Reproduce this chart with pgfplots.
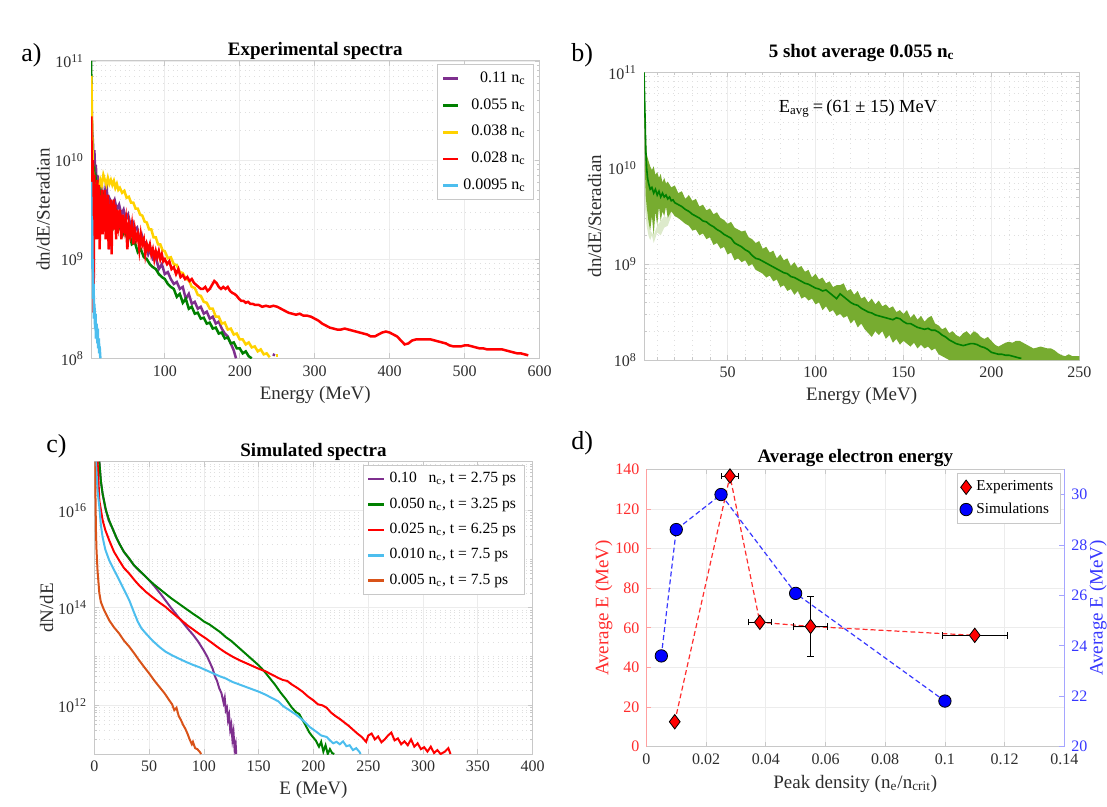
\documentclass[border=0pt]{standalone}
\usepackage{fontspec}
\setmainfont{Liberation Serif}
\usepackage{pgfplots}
\pgfplotsset{compat=1.18}
\definecolor{mpurple}{RGB}{126,47,142}
\definecolor{mgreen}{RGB}{0,128,0}
\definecolor{myellow}{RGB}{255,210,0}
\definecolor{mred}{RGB}{255,0,0}
\definecolor{mcyan}{RGB}{77,190,238}
\definecolor{morange}{RGB}{217,83,25}
\definecolor{bandgreen}{RGB}{119,172,48}
\definecolor{axgray}{RGB}{200,200,200}
\definecolor{tickgray}{RGB}{45,45,45}
\definecolor{dred}{RGB}{255,45,45}
\definecolor{dblue}{RGB}{55,55,255}
\newcommand\tickfont{\fontsize{8}{9.6}\selectfont}
\newcommand\labfont{\fontsize{9.5}{11}\selectfont}
\newcommand\titfont{\bfseries\fontsize{9.5}{11}\selectfont}
\newcommand\legfont{\fontsize{7.8}{9}\selectfont}
\pgfplotsset{
  mstyle/.style={
    scale only axis, anchor=south west,
    axis line style={axgray, line width=0.5pt},
    tick style={axgray, line width=0.4pt},
    tick align=inside,
    major tick length=2.5pt, minor tick length=1.5pt,
    major grid style={gray!15, line width=0.4pt},
    minor grid style={gray!25, dotted, line width=0.4pt},
    tick label style={font=\tickfont, text=tickgray},
    label style={font=\labfont, text=tickgray},
    every axis title shift=0pt,
    title style={font=\titfont, anchor=base},
    /pgf/number format/assume math mode=true,
    legend style={draw=axgray, line width=0.4pt, font=\legfont, anchor=north east, inner xsep=2pt, inner ysep=1.5pt},
  },
  logminor/.style={minor ytick={8.301,8.477,8.602,8.699,8.778,8.845,8.903,8.954,9.301,9.477,9.602,9.699,9.778,9.845,9.903,9.954,10.301,10.477,10.602,10.699,10.778,10.845,10.903,10.954}},
}
\begin{document}
\begin{tikzpicture}
\useasboundingbox (0,0) rectangle (553.5pt,-403.5pt);
% ---------------- a) ----------------
\begin{axis}[mstyle, at={(45.5pt,-179.15pt)}, width=224.25pt, height=148.65pt,
  xmin=1.5, xmax=600, ymin=8, ymax=11,
  xtick={100,200,300,400,500,600},
  ytick={8,9,10,11}, yticklabels={10\textsuperscript{8},10\textsuperscript{9},10\textsuperscript{10},10\textsuperscript{11}},
  logminor, xmajorgrids, ymajorgrids, yminorgrids,
  title={Experimental spectra}, title style={at={(axis description cs:0.5,1.02)}},
  xlabel={Energy (MeV)}, xlabel style={at={(axis description cs:0.5,-0.137)}, anchor=base},
  ylabel={dn/dE/Steradian}, ylabel style={at={(axis description cs:-0.107,0.5)}, anchor=center},
  legend style={at={(axis description cs:0.988,0.989)}, row sep=2.6pt, font=\fontsize{8}{9}\selectfont},
  legend cell align=right,
  legend image code/.code={\draw[#1, line width=1.4pt] (0pt,0pt) -- (7.5pt,0pt);},
  every axis plot/.append style={line width=1.25pt},
]
\addplot[mpurple] coordinates {(1.5,10.5)(2,10.8)(2.5,10.5)(3,10.3)(4,10.2)(5,10.0)(6,10.1)(7,9.9)(8,9.95)(9,9.75)(10,9.85)(12,9.7)(14,9.6)(16,9.75)(18,9.55)(20,9.65)(22,9.8)(24,9.5)(26,9.1)(27,9.6)(30,9.55)(33,9.6)(36,9.5)(39,9.55)(42,9.45)(45,9.5)(48,9.4)(51,9.45)(54,9.35)(57,9.38)(60,9.3)(63,9.32)(66,9.2)(69,9.25)(72,9.15)(75,9.17)(78,9.05)(81,9.1)(84,9.0)(88,9.02)(92,8.9)(96,8.95)(100,8.85)(104,8.87)(108,8.8)(112,8.75)(116,8.77)(120,8.7)(124,8.72)(128,8.6)(132,8.65)(136,8.55)(140,8.57)(144,8.5)(148,8.52)(152,8.45)(156,8.47)(160,8.4)(164,8.42)(168,8.35)(172,8.37)(176,8.3)(180,8.25)(184,8.22)(188,8.15)(192,8.08)(195,8.0)};
\addlegendentry{0.11 n\textsubscript{c}}
\addplot[mgreen] coordinates {(1.5,11.0)(2,10.8)(2.5,10.4)(3,10.1)(3.5,10.0)(4,9.9)(5,9.8)(6,9.85)(7,9.7)(8,9.75)(9,9.6)(10,9.7)(12,9.55)(14,9.65)(16,9.5)(18,9.6)(20,9.5)(23,9.55)(26,9.4)(29,9.5)(32,9.35)(35,9.45)(38,9.3)(41,9.35)(44,9.25)(47,9.3)(50,9.2)(53,9.25)(56,9.15)(60,9.17)(64,9.07)(68,9.1)(72,9.02)(76,9.0)(80,8.95)(84,8.92)(88,8.9)(92,8.85)(96,8.82)(100,8.8)(104,8.75)(108,8.72)(112,8.7)(116,8.62)(120,8.65)(124,8.56)(128,8.6)(132,8.5)(136,8.52)(140,8.45)(144,8.46)(148,8.4)(152,8.41)(156,8.35)(160,8.36)(164,8.3)(168,8.31)(172,8.25)(176,8.26)(180,8.2)(184,8.21)(188,8.15)(192,8.16)(196,8.1)(200,8.1)(204,8.05)(208,8.07)(212,8.02)(216,8.0)};
\addlegendentry{0.055 n\textsubscript{c}}
\addplot[myellow] coordinates {(1.5,10.0)(2,10.85)(2.5,10.6)(3,10.3)(3.5,10.1)(4,9.9)(5,9.8)(6,9.75)(8,9.7)(10,9.75)(12,9.7)(14,9.8)(16,9.75)(18,9.85)(20,9.8)(22,9.75)(24,9.82)(26,9.76)(28,9.8)(30,9.75)(32,9.79)(34,9.72)(36,9.76)(38,9.7)(40,9.72)(43,9.67)(46,9.69)(49,9.62)(52,9.63)(55,9.57)(58,9.57)(61,9.51)(64,9.51)(67,9.45)(70,9.44)(73,9.38)(76,9.37)(79,9.3)(82,9.3)(85,9.22)(88,9.22)(91,9.15)(94,9.15)(97,9.09)(100,9.08)(104,9.01)(108,9.02)(112,8.95)(116,8.94)(120,8.87)(124,8.86)(128,8.8)(132,8.79)(136,8.72)(140,8.71)(144,8.64)(148,8.63)(152,8.57)(156,8.56)(160,8.5)(164,8.5)(168,8.42)(172,8.42)(176,8.35)(180,8.36)(184,8.29)(188,8.3)(192,8.24)(196,8.25)(200,8.19)(204,8.19)(208,8.14)(212,8.16)(216,8.11)(220,8.12)(224,8.07)(228,8.09)(232,8.04)(236,8.05)(240,8.01)};
\addlegendentry{0.038 n\textsubscript{c}}
\addplot[mred] coordinates {(1.5,9.9)(2,10.44)(2.5,9.7)(3,9.9)(3.5,9.4)(4,10.0)(4.5,9.6)(5,8.46)(5.5,9.5)(6,9.85)(7,9.3)(8,9.7)(9,9.2)(10,9.8)(11,9.4)(12,9.75)(13,9.1)(14,9.6)(15,9.35)(16,9.7)(17,9.25)(18,9.65)(19,9.4)(20,9.7)(21,9.2)(22,9.6)(23,9.45)(24,9.65)(25,9.1)(26,9.55)(27,9.3)(28,9.6)(29,9.05)(30,9.5)(31,9.35)(32,9.6)(33,9.3)(34,9.55)(35,9.2)(36,9.5)(38,9.35)(40,9.5)(42,9.2)(44,9.45)(46,9.3)(48,9.4)(50,9.1)(52,9.35)(54,9.25)(56,9.35)(58,9.15)(60,9.3)(62,9.2)(64,9.25)(66,9.1)(68,9.25)(70,9.15)(72,9.2)(74,9.05)(76,9.15)(78,9.1)(80,9.15)(82,9.05)(84,9.1)(86,9.0)(88,9.08)(90,9.02)(92,9.08)(94,9.0)(96,9.05)(98,8.98)(100,9.0)(103,8.95)(106,8.98)(109,8.9)(112,8.92)(115,8.85)(118,8.9)(121,8.82)(124,8.84)(127,8.8)(130,8.82)(133,8.78)(136,8.8)(139,8.76)(142,8.74)(145,8.72)(148,8.7)(151,8.7)(154,8.72)(157,8.68)(160,8.7)(163,8.74)(166,8.78)(169,8.76)(172,8.72)(175,8.7)(178,8.72)(181,8.7)(184,8.72)(187,8.68)(190,8.66)(193,8.65)(196,8.63)(199,8.6)(202,8.58)(205,8.58)(208,8.56)(211,8.57)(214,8.55)(217,8.55)(220,8.54)(225,8.54)(230,8.52)(235,8.53)(240,8.52)(245,8.53)(250,8.52)(255,8.5)(260,8.48)(265,8.46)(270,8.45)(275,8.44)(280,8.45)(285,8.43)(290,8.43)(295,8.42)(300,8.4)(305,8.38)(310,8.35)(315,8.33)(320,8.31)(325,8.3)(330,8.29)(335,8.29)(340,8.3)(345,8.29)(350,8.28)(355,8.27)(360,8.26)(365,8.25)(370,8.24)(375,8.22)(380,8.22)(385,8.24)(390,8.26)(395,8.27)(400,8.26)(405,8.24)(410,8.22)(415,8.18)(420,8.14)(425,8.15)(430,8.18)(435,8.19)(440,8.19)(445,8.19)(450,8.19)(455,8.19)(460,8.18)(465,8.17)(470,8.16)(475,8.15)(480,8.13)(485,8.12)(490,8.12)(495,8.12)(500,8.13)(505,8.13)(510,8.12)(515,8.11)(520,8.1)(525,8.1)(530,8.09)(535,8.09)(540,8.09)(545,8.09)(550,8.09)(555,8.08)(560,8.07)(565,8.06)(570,8.05)(575,8.05)(580,8.04)(585,8.03)};
\addlegendentry{0.028 n\textsubscript{c}}
\addplot[mcyan] coordinates {(1.5,9.78)(2,9.55)(2.5,9.2)(3,9.4)(3.5,8.9)(4,9.0)(4.5,8.6)(5,8.75)(5.5,8.4)(6,8.55)(7,8.3)(7.5,8.45)(8,8.2)(9,8.35)(10,8.15)(10.5,8.3)(11,8.1)(12,8.2)(12.5,8.05)(13,8.12)(14,8.0)};
\addlegendentry{0.0095 n\textsubscript{c}}
\addplot[mpurple, forget plot] coordinates {(244,8.04)(247,8.03)};
\addplot[myellow, forget plot] coordinates {(248,8.03)(251,8.03)};
\end{axis}
% ---------------- b) ----------------
\begin{axis}[mstyle, at={(322pt,-180pt)}, width=217.65pt, height=143.85pt,
  xmin=2.5, xmax=250, ymin=8, ymax=11,
  xtick={50,100,150,200,250}, minor xtick={10,20,30,40,60,70,80,90,110,120,130,140,160,170,180,190,210,220,230,240},
  ytick={8,9,10,11}, yticklabels={10\textsuperscript{8},10\textsuperscript{9},10\textsuperscript{10},10\textsuperscript{11}},
  logminor, xmajorgrids, xminorgrids, ymajorgrids, yminorgrids,
  title={5 shot average 0.055 n\textsubscript{c}}, title style={at={(axis description cs:0.5,1.053)}},
  xlabel={Energy (MeV)}, xlabel style={at={(axis description cs:0.5,-0.1425)}, anchor=base},
  ylabel={dn/dE/Steradian}, ylabel style={at={(axis description cs:-0.1135,0.5)}, anchor=center},
]
\addplot[draw=none, fill=bandgreen!25, forget plot] coordinates {(3,10.0)(4,9.6)(5,9.45)(6,9.35)(8,9.3)(10,9.4)(12,9.45)(14,9.5)(16,9.48)(18,9.55)(18,9.5)(16,9.4)(14,9.38)(12,9.3)(10,9.33)(8,9.22)(7,9.3)(6,9.25)(5,9.3)(4,9.4)(3,9.6)};
\addplot[draw=none, fill=bandgreen, forget plot] coordinates {(2.5,11.02)(3,10.7)(3.5,10.35)(4,10.15)(5,10.08)(6,10.02)(7,9.98)(8,10.02)(9,9.93)(10,9.96)(11,9.9)(12,9.94)(13,9.85)(14,9.9)(15,9.84)(16,9.86)(18,9.8)(20,9.82)(22,9.74)(24,9.76)(26,9.68)(28,9.72)(30,9.66)(32,9.68)(34,9.6)(36,9.62)(38,9.56)(40,9.58)(42,9.52)(44,9.54)(46,9.48)(48,9.46)(50,9.42)(52,9.44)(54,9.38)(56,9.36)(58,9.34)(60,9.35)(62,9.28)(64,9.26)(66,9.22)(68,9.24)(70,9.16)(72,9.18)(74,9.12)(76,9.14)(78,9.06)(80,9.1)(82,9.04)(84,9.06)(86,8.98)(88,9.02)(90,8.96)(92,8.98)(94,8.92)(96,8.94)(98,8.86)(100,8.9)(102,8.84)(104,8.86)(106,8.8)(108,8.82)(110,8.76)(112,8.78)(114,8.78)(116,8.8)(118,8.72)(120,8.74)(122,8.68)(124,8.72)(126,8.64)(128,8.66)(130,8.6)(132,8.64)(134,8.58)(136,8.62)(138,8.56)(140,8.58)(142,8.54)(144,8.56)(146,8.5)(148,8.52)(150,8.48)(152,8.52)(154,8.44)(156,8.48)(158,8.42)(160,8.46)(162,8.4)(164,8.44)(166,8.46)(168,8.38)(170,8.36)(172,8.32)(174,8.34)(176,8.28)(178,8.3)(180,8.26)(182,8.24)(184,8.28)(186,8.3)(188,8.26)(190,8.3)(192,8.28)(194,8.24)(196,8.22)(198,8.24)(200,8.2)(202,8.16)(204,8.14)(206,8.16)(208,8.18)(210,8.19)(212,8.18)(214,8.2)(216,8.2)(218,8.18)(220,8.16)(222,8.14)(224,8.12)(226,8.13)(228,8.14)(230,8.13)(232,8.12)(234,8.12)(236,8.1)(238,8.07)(240,8.05)(242,8.04)(244,8.06)(246,8.04)(248,8.04)(250,8.04)
(250,8.0)(176,8.0)(174,8.02)(172,8.04)(170,8.06)(168,8.12)(166,8.1)(164,8.14)(162,8.12)(160,8.16)(158,8.12)(156,8.18)(154,8.14)(152,8.17)(150,8.2)(148,8.16)(146,8.22)(144,8.18)(142,8.26)(140,8.22)(138,8.3)(136,8.26)(134,8.3)(132,8.24)(130,8.28)(128,8.32)(126,8.38)(124,8.34)(122,8.42)(120,8.38)(118,8.46)(116,8.44)(114,8.48)(112,8.46)(110,8.52)(108,8.5)(106,8.56)(104,8.52)(102,8.6)(100,8.58)(98,8.64)(96,8.62)(94,8.66)(92,8.64)(90,8.72)(88,8.68)(86,8.74)(84,8.72)(82,8.78)(80,8.76)(78,8.84)(76,8.82)(74,8.88)(72,8.86)(70,8.9)(68,8.92)(66,8.94)(64,9.0)(62,8.98)(60,9.04)(58,9.02)(56,9.06)(54,9.04)(52,9.12)(50,9.1)(48,9.18)(46,9.16)(44,9.22)(42,9.2)(40,9.28)(38,9.26)(36,9.32)(34,9.3)(32,9.36)(30,9.35)(28,9.4)(26,9.42)(24,9.45)(22,9.48)(20,9.5)(18,9.55)(16,9.48)(15,9.6)(14,9.5)(13,9.55)(12,9.45)(11,9.6)(10,9.4)(9,9.55)(8,9.3)(7,9.5)(6,9.35)(5,9.45)(4,9.6)(3.5,9.7)(3,10.0)(2.5,10.95)};
\addplot[mgreen, line width=0.8pt] coordinates {(2.5,11.0)(3,10.6)(3.5,10.2)(4,10.0)(4.5,9.9)(5,9.85)(6,9.78)(7,9.8)(8,9.74)(9,9.78)(10,9.72)(11,9.76)(12,9.7)(13,9.74)(14,9.7)(15,9.72)(16,9.68)(17,9.7)(18,9.66)(19,9.67)(20,9.64)(22,9.62)(24,9.6)(26,9.57)(28,9.55)(30,9.52)(32,9.5)(34,9.48)(36,9.45)(38,9.44)(40,9.41)(42,9.39)(44,9.36)(46,9.34)(48,9.31)(50,9.29)(52,9.27)(54,9.22)(56,9.2)(58,9.18)(60,9.15)(62,9.13)(64,9.09)(66,9.06)(68,9.05)(70,9.03)(72,9.01)(74,8.99)(76,8.97)(78,8.95)(80,8.93)(82,8.91)(84,8.9)(86,8.87)(88,8.86)(90,8.84)(92,8.82)(94,8.8)(96,8.79)(98,8.77)(100,8.75)(102,8.74)(104,8.72)(106,8.73)(108,8.7)(110,8.67)(112,8.64)(114,8.69)(116,8.66)(118,8.63)(120,8.6)(122,8.58)(124,8.57)(126,8.54)(128,8.52)(130,8.5)(132,8.49)(134,8.47)(136,8.46)(138,8.45)(140,8.44)(142,8.43)(144,8.42)(146,8.44)(148,8.43)(150,8.4)(152,8.38)(154,8.38)(156,8.36)(158,8.34)(160,8.33)(162,8.32)(164,8.33)(166,8.31)(168,8.31)(170,8.29)(172,8.26)(174,8.24)(176,8.21)(178,8.19)(180,8.17)(182,8.16)(184,8.15)(186,8.16)(188,8.17)(190,8.17)(192,8.16)(194,8.14)(196,8.13)(198,8.11)(200,8.08)(202,8.07)(204,8.06)(206,8.06)(208,8.05)(210,8.05)(212,8.04)(214,8.03)(216,8.02)(217,8.02)};
\node[font=\fontsize{9.2}{11}\selectfont, anchor=base] at (axis description cs:0.4916,0.862) {E\textsubscript{avg}\,=\,(61 ± 15) MeV};
\end{axis}
% ---------------- c) ----------------
\begin{axis}[mstyle, at={(47.15pt,-377pt)}, width=219.2pt, height=146.15pt,
  xmin=0, xmax=400, ymin=11, ymax=17,
  xtick={0,50,100,150,200,250,300,350,400},
  ytick={12,14,16}, yticklabels={10\textsuperscript{12},10\textsuperscript{14},10\textsuperscript{16}},
  minor ytick={11.301,11.477,11.602,11.699,11.778,11.845,11.903,11.954,12.301,12.477,12.602,12.699,12.778,12.845,12.903,12.954,13,13.301,13.477,13.602,13.699,13.778,13.845,13.903,13.954,14.301,14.477,14.602,14.699,14.778,14.845,14.903,14.954,15,15.301,15.477,15.602,15.699,15.778,15.845,15.903,15.954,16.301,16.477,16.602,16.699,16.778,16.845,16.903,16.954},
  xmajorgrids, ymajorgrids, yminorgrids,
  title={Simulated spectra}, title style={at={(axis description cs:0.5,1.0195)}},
  xlabel={E (MeV)}, xlabel style={at={(axis description cs:0.5,-0.140)}, anchor=base},
  ylabel={dN/dE}, ylabel style={at={(axis description cs:-0.109,0.5)}, anchor=center},
  legend style={at={(axis description cs:0.981,0.9887)}, row sep=2pt},
  legend cell align=left,
  legend image code/.code={\draw[#1, line width=1.3pt] (0pt,0pt) -- (8pt,0pt);},
  every axis plot/.append style={line width=1pt},
]
\addplot[mpurple] coordinates {(4.6,17.0)(6,16.6)(7.6,16.34)(10,16.05)(13,15.8)(16.8,15.62)(20,15.45)(22.8,15.32)(27,15.15)(32,15.0)(36,14.88)(41,14.76)(46,14.66)(50,14.57)(55,14.44)(60,14.3)(65,14.15)(70,14.0)(75,13.86)(80,13.72)(85,13.58)(90,13.45)(95,13.3)(100,13.12)(103,13.0)(106,12.85)(108,12.75)(110,12.6)(112,12.5)(114,12.35)(116,12.25)(118,12.05)(119,12.15)(120,11.9)(121,11.95)(122,11.7)(123,11.8)(124,11.5)(125,11.6)(126,11.3)(127,11.45)(128,11.1)(129,11.2)(129.5,11.0)};
\addlegendentry{0.10\ \ \ n\textsubscript{c}, t = 2.75 ps}
\addplot[mgreen] coordinates {(4.6,17.0)(6,16.6)(7.6,16.34)(10.7,16.0)(13.5,15.8)(16.8,15.62)(20,15.45)(22.8,15.32)(27,15.15)(32,15.01)(36,14.88)(41,14.77)(46,14.66)(50,14.57)(55,14.47)(60,14.38)(65,14.29)(70,14.2)(75,14.12)(80,14.04)(85,13.96)(90,13.88)(96,13.79)(100,13.72)(105,13.66)(110,13.58)(115,13.5)(120,13.4)(125,13.32)(130,13.22)(135,13.12)(140,13.02)(145,12.92)(150,12.82)(155,12.7)(160,12.56)(165,12.42)(170,12.26)(175,12.12)(180,11.96)(184,11.86)(187,11.82)(190,11.7)(193,11.58)(196,11.45)(199,11.36)(202,11.28)(205,11.15)(207,11.25)(209,11.05)(211,11.18)(213,11.0)(215,11.1)(217,11.02)(219,11.0)};
\addlegendentry{0.050 n\textsubscript{c}, t = 3.25 ps}
\addplot[mred] coordinates {(3,17.0)(4.6,16.2)(7.6,15.8)(10,15.6)(13.7,15.38)(18,15.15)(22.8,14.97)(27,14.82)(32,14.7)(37,14.56)(41,14.46)(47,14.33)(53,14.22)(60,14.1)(65,14.02)(70,13.92)(77.6,13.78)(85,13.64)(90,13.56)(96,13.46)(102,13.37)(108,13.27)(114,13.17)(120,13.08)(126,13.0)(132,12.93)(138,12.87)(144,12.81)(150,12.75)(156,12.7)(162,12.63)(168,12.56)(172,12.52)(176,12.5)(180,12.43)(185,12.36)(190,12.28)(195,12.18)(200,12.1)(204,12.02)(208,12.0)(212,11.95)(216,11.85)(220,11.78)(224,11.72)(228,11.65)(232,11.58)(236,11.5)(240,11.42)(244,11.35)(248,11.25)(250,11.38)(253,11.42)(256,11.3)(259,11.36)(262,11.24)(265,11.3)(268,11.38)(271,11.44)(274,11.28)(277,11.32)(280,11.2)(283,11.26)(286,11.18)(289,11.3)(292,11.15)(295,11.22)(298,11.1)(301,11.14)(304,11.05)(307,11.15)(310,11.02)(313,11.08)(316,11.0)(320,11.05)(323,11.12)(325,11.0)};
\addlegendentry{0.025 n\textsubscript{c}, t = 6.25 ps}
\addplot[mcyan] coordinates {(1.5,17.0)(3,16.4)(4.6,16.07)(6,15.7)(7.6,15.45)(10,15.2)(13.7,14.97)(18,14.78)(22.8,14.57)(27,14.38)(32,14.15)(36,13.92)(39.6,13.72)(43,13.58)(47.2,13.47)(53,13.33)(59.3,13.2)(65,13.1)(71.5,13.02)(78,12.95)(83.7,12.89)(90,12.83)(96,12.78)(102,12.72)(108,12.66)(114,12.6)(120,12.55)(126,12.48)(132,12.43)(138,12.38)(144,12.33)(150,12.28)(156,12.22)(162,12.15)(168,12.08)(172.5,11.98)(178,11.9)(184.6,11.8)(190,11.7)(196.8,11.55)(203,11.45)(207,11.38)(212,11.35)(215,11.28)(218,11.22)(221,11.25)(224,11.2)(227,11.26)(230,11.16)(233,11.18)(236,11.08)(239,11.12)(242,11.04)(243,11.0)};
\addlegendentry{0.010 n\textsubscript{c}, t = 7.5 ps}
\addplot[morange] coordinates {(0.3,17.0)(1,16.4)(1.5,15.6)(2,15.2)(3,14.75)(4.6,14.3)(6,14.12)(9,13.95)(13.7,13.74)(18,13.6)(22.8,13.47)(27,13.33)(32,13.2)(36,13.08)(41,12.92)(45,12.8)(50.2,12.65)(55,12.5)(59.3,12.38)(64,12.25)(68.5,12.1)(71,12.02)(73,11.9)(75,11.95)(77,11.78)(79,11.7)(81,11.6)(83,11.52)(85,11.42)(87,11.3)(89,11.2)(90,11.25)(92,11.12)(94,11.1)(96,11.05)(97.5,11.0)};
\addlegendentry{0.005 n\textsubscript{c}, t = 7.5 ps}
\end{axis}
% ---------------- d) ----------------
\begin{axis}[mstyle, at={(323.2pt,-373.35pt)}, width=208.95pt, height=138.7pt,
  xmin=0, xmax=0.14, ymin=0, ymax=140,
  axis y line*=left, y axis line style={dred!45},
  xtick={0,0.02,0.04,0.06,0.08,0.1,0.12,0.14}, xticklabels={0,0.02,0.04,0.06,0.08,0.1,0.12,0.14},
  ytick={0,20,40,60,80,100,120,140},
  yticklabel style={text=dred}, ytick style={dred!45},
  xmajorgrids, ymajorgrids,
  title={Average electron energy}, title style={at={(axis description cs:0.5,1.026)}},
  xlabel={Peak density (n\textsubscript{e}/n\textsubscript{crit})}, xlabel style={at={(axis description cs:0.5,-0.149)}, anchor=base},
  ylabel={Average E (MeV)}, ylabel style={at={(axis description cs:-0.102,0.5)}, anchor=center, text=dred},
]
\addplot[dred, line width=0.6pt, dash pattern=on 2.5pt off 1.5pt, mark=diamond*, mark size=3.6pt,
  mark options={solid, fill=red, draw=black, line width=0.4pt},
  error bars/.cd, x dir=both, x explicit, y dir=both, y explicit,
  error bar style={solid, black, line width=0.5pt},
  error mark options={black, mark size=1.6pt, solid, rotate=90}]
  coordinates {(0.0095,12.6) +- (0.0008,1.0) (0.028,136.6) +- (0.0028,1.5) (0.038,62.8) +- (0.004,1.5) (0.055,60.7) +- (0.0057,15) (0.11,56.2) +- (0.011,1.0)};
\end{axis}
\begin{axis}[mstyle, at={(323.2pt,-373.35pt)}, width=208.95pt, height=138.7pt,
  xmin=0, xmax=0.14, ymin=20, ymax=31,
  axis y line*=right, axis x line=none, y axis line style={dblue!45},
  ytick={20,22,24,26,28,30}, yticklabel style={text=dblue}, ytick style={dblue!45},
  ylabel={Average E (MeV)}, ylabel style={at={(axis description cs:1.081,0.5)}, anchor=center, text=dblue},
  legend style={at={(axis description cs:0.991,0.9856)}, font=\fontsize{7.6}{9}\selectfont, row sep=0.5pt, inner xsep=1.5pt},
  legend cell align=left,
  legend image code/.code={\draw[#1] plot coordinates {(4pt,0pt)};},
]
\addlegendimage{only marks, mark=diamond*, mark size=3.6pt, mark options={fill=red, draw=black, line width=0.4pt}}
\addlegendentry{Experiments}
\addlegendimage{only marks, mark=*, mark size=3.1pt, mark options={fill=blue, draw=black, line width=0.4pt}}
\addlegendentry{Simulations}
\addplot[dblue, line width=0.6pt, dash pattern=on 2.5pt off 1.5pt, mark=*, mark size=3.1pt,
  mark options={solid, fill=blue, draw=black, line width=0.4pt}, forget plot]
  coordinates {(0.005,23.6)(0.01,28.61)(0.025,30.0)(0.05,26.08)(0.1,21.81)};
\end{axis}
% panel letters
\node[anchor=base west, inner sep=0pt, font=\fontsize{13}{15}\selectfont] at (10.5pt,-31pt) {a)};
\node[anchor=base west, inner sep=0pt, font=\fontsize{13}{15}\selectfont] at (285.5pt,-31pt) {b)};
\node[anchor=base west, inner sep=0pt, font=\fontsize{13}{15}\selectfont] at (23pt,-226pt) {c)};
\node[anchor=base west, inner sep=0pt, font=\fontsize{13}{15}\selectfont] at (285.5pt,-224.5pt) {d)};
\end{tikzpicture}
\end{document}
